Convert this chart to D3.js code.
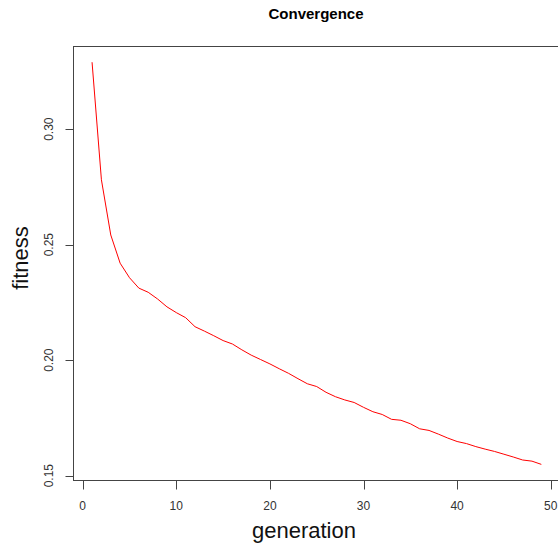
<!DOCTYPE html>
<html>
<head>
<meta charset="utf-8">
<script src="https://cdn.jsdelivr.net/npm/d3@7"></script>
<style>
  html, body { margin: 0; padding: 0; background: #fff; }
  svg { display: block; font-family: "Liberation Sans", Arial, Helvetica, sans-serif; }
</style>
</head>
<body>
<svg id="chart" width="558" height="546"></svg>
<script>
// Best fitness per generation
const generations = d3.range(1, 50);
const fitness = [
  0.3290, 0.2781, 0.2542, 0.2420, 0.2357, 0.2312, 0.2294, 0.2265, 0.2231, 0.2206,
  0.2184, 0.2145, 0.2126, 0.2106, 0.2085, 0.2070, 0.2045, 0.2022, 0.2003, 0.1984,
  0.1963, 0.1943, 0.1920, 0.1898, 0.1886, 0.1861, 0.1842, 0.1828, 0.1817, 0.1796,
  0.1777, 0.1765, 0.1744, 0.1740, 0.1725, 0.1703, 0.1696, 0.1680, 0.1663, 0.1648,
  0.1639, 0.1626, 0.1615, 0.1605, 0.1593, 0.1581, 0.1568, 0.1563, 0.1549
];
const xTicks = [0, 10, 20, 30, 40, 50];
const yTicks = [0.15, 0.20, 0.25, 0.30];
const yTickLabels = ["0.15", "0.20", "0.25", "0.30"];

const svg = d3.select("#chart");
const axisColor = "#444";

const x = d3.scaleLinear().domain([0, 50]).range([82.7, 550.7]);
const y = d3.scaleLinear().domain([0.15, 0.30]).range([475.7, 129.2]);

// plotting region padded 4% beyond the data range on each side
function pad(ext) { const d = (ext[1] - ext[0]) * 0.04; return [ext[0] - d, ext[1] + d]; }
const xr = pad(d3.extent(generations));
const yr = pad(d3.extent(fitness));
const boxLeft = Math.round(x(xr[0])) - 0.5, boxRight = Math.round(x(xr[1])) + 0.5;
const boxTop = Math.round(y(yr[1])) + 0.5, boxBottom = Math.round(y(yr[0])) + 0.5;

// frame
svg.append("rect")
  .attr("x", boxLeft).attr("y", boxTop)
  .attr("width", boxRight - boxLeft).attr("height", boxBottom - boxTop)
  .attr("fill", "none").attr("stroke", axisColor).attr("stroke-width", 1);

// bottom axis
const xAxis = svg.append("g").attr("transform", `translate(0,${boxBottom})`);
xAxis.append("line")
  .attr("x1", Math.round(x(0)) + 0.5).attr("x2", Math.round(x(50)) + 0.5)
  .attr("stroke", axisColor);
xAxis.selectAll("line.tick").data(xTicks).join("line")
  .attr("class", "tick")
  .attr("x1", d => Math.round(x(d)) + 0.5).attr("x2", d => Math.round(x(d)) + 0.5)
  .attr("y1", 0).attr("y2", 9)
  .attr("stroke", axisColor);
xAxis.selectAll("text").data(xTicks).join("text")
  .attr("x", d => x(d)).attr("y", 29.5)
  .attr("text-anchor", "middle")
  .attr("font-size", 12).attr("fill", "#333")
  .text(d => d);

// left axis
const yAxis = svg.append("g").attr("transform", `translate(${boxLeft},0)`);
yAxis.append("line")
  .attr("y1", Math.round(y(0.15)) + 0.5).attr("y2", Math.round(y(0.30)) + 0.5)
  .attr("stroke", axisColor);
yAxis.selectAll("line.tick").data(yTicks).join("line")
  .attr("class", "tick")
  .attr("y1", d => Math.round(y(d)) + 0.5).attr("y2", d => Math.round(y(d)) + 0.5)
  .attr("x1", 0).attr("x2", -8)
  .attr("stroke", axisColor);
yAxis.selectAll("text").data(yTicks).join("text")
  .attr("transform", d => `translate(-21,${y(d)}) rotate(-90)`)
  .attr("text-anchor", "middle")
  .attr("font-size", 12).attr("fill", "#333")
  .text((d, i) => yTickLabels[i]);

// fitness curve
const line = d3.line()
  .x((d, i) => x(generations[i]))
  .y(d => y(d));
svg.append("path")
  .datum(fitness)
  .attr("d", line)
  .attr("fill", "none")
  .attr("stroke", "#ff0000")
  .attr("stroke-width", 1);

// titles
svg.append("text")
  .attr("x", 316).attr("y", 19)
  .attr("text-anchor", "middle")
  .attr("font-size", 15).attr("font-weight", "bold").attr("fill", "#000")
  .text("Convergence");
svg.append("text")
  .attr("x", 304).attr("y", 538)
  .attr("text-anchor", "middle")
  .attr("font-size", 22).attr("fill", "#111")
  .text("generation");
svg.append("text")
  .attr("transform", "translate(28,258) rotate(-90)")
  .attr("text-anchor", "middle")
  .attr("font-size", 22).attr("fill", "#111")
  .text("fitness");
</script>
</body>
</html>
